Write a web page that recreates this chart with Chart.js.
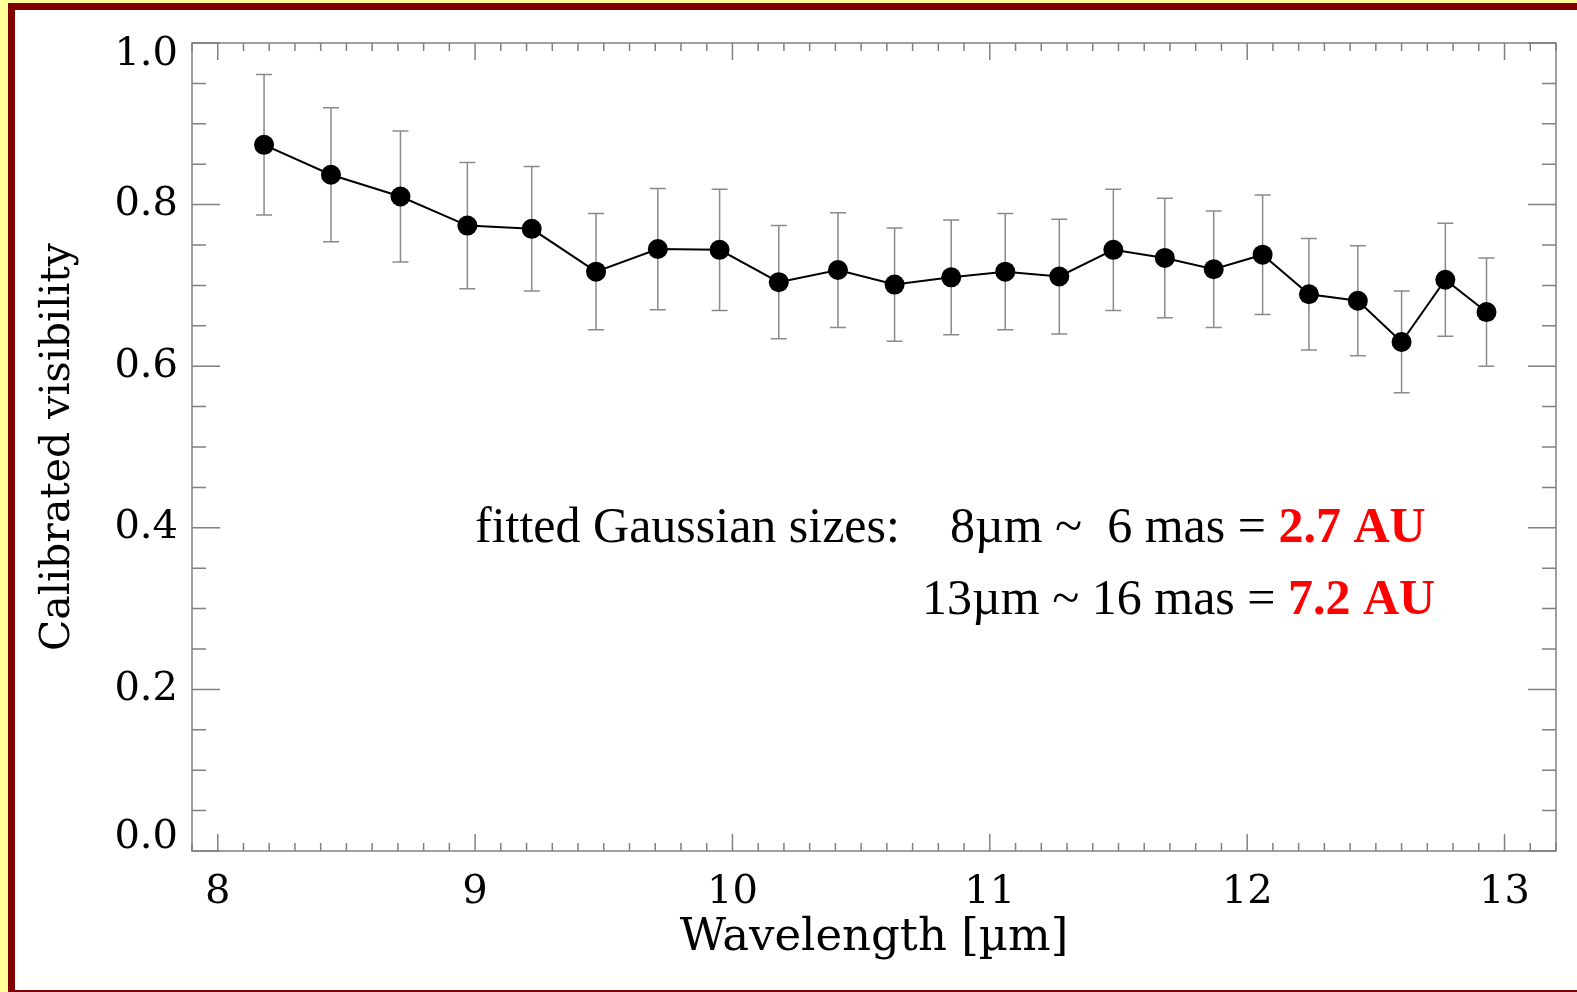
<!DOCTYPE html>
<html>
<head>
<meta charset="utf-8">
<script src="https://cdn.jsdelivr.net/npm/chart.js@4.4.1/dist/chart.umd.min.js"></script>
<style>
html, body { margin:0; padding:0; width:1577px; height:992px; overflow:hidden; background:#ffff99; }
#frame { position:absolute; left:8px; top:3px; width:1600px; height:980px; background:#fff;
         border-top:7px solid #800000; border-left:7px solid #800000; border-bottom:2px solid #800000; }
#wrap { position:absolute; left:0; top:0; width:1577px; height:992px; }
</style>
</head>
<body>
<div id="frame"></div>
<div id="wrap"><canvas id="c"></canvas></div>
<script>
// wavelength in micron, calibrated visibility and its error
var wavelength = [8.18, 8.44, 8.71, 8.97, 9.22, 9.47, 9.71, 9.95, 10.18, 10.41, 10.63, 10.85,
                  11.06, 11.27, 11.48, 11.68, 11.87, 12.06, 12.24, 12.43, 12.60, 12.77, 12.93];
var visibility = [0.874, 0.837, 0.810, 0.774, 0.770, 0.717, 0.745, 0.744, 0.704, 0.719, 0.701, 0.710,
                  0.717, 0.711, 0.744, 0.734, 0.720, 0.738, 0.689, 0.681, 0.630, 0.707, 0.667];
var visErr = [0.087, 0.083, 0.081, 0.078, 0.077, 0.072, 0.075, 0.075, 0.070, 0.071, 0.070, 0.071,
              0.072, 0.071, 0.075, 0.074, 0.072, 0.074, 0.069, 0.068, 0.063, 0.070, 0.067];

var xTicks = [8, 9, 10, 11, 12, 13];
var yTicks = [0.0, 0.2, 0.4, 0.6, 0.8, 1.0];
var yTickLabels = ['0.0', '0.2', '0.4', '0.6', '0.8', '1.0'];

var noteLine1 = ['fitted Gaussian sizes:    8\u00b5m ~  6 mas = ', '2.7 AU'];
var noteLine2 = ['13\u00b5m ~ 16 mas = ', '7.2 AU'];

var axisGrey = '#808080';
var tickFont = {family: 'DejaVu Serif', size: 40};

// error bars, drawn under the points
var errorBars = {
  id: 'errorBars',
  beforeDatasetsDraw: function(chart) {
    var ctx = chart.ctx, xs = chart.scales.x, ys = chart.scales.y;
    ctx.save();
    ctx.strokeStyle = '#8a8a8a';
    ctx.lineWidth = 1.5;
    for (var i = 0; i < wavelength.length; i++) {
      var px = xs.getPixelForValue(wavelength[i]);
      var top = ys.getPixelForValue(visibility[i] + visErr[i]);
      var bot = ys.getPixelForValue(visibility[i] - visErr[i]);
      ctx.beginPath();
      ctx.moveTo(px, top); ctx.lineTo(px, bot);
      ctx.moveTo(px - 8, top); ctx.lineTo(px + 8, top);
      ctx.moveTo(px - 8, bot); ctx.lineTo(px + 8, bot);
      ctx.stroke();
    }
    ctx.restore();
  }
};

// IDL style box with inward ticks on all four sides, y labels kept inside the box height
var axisBox = {
  id: 'axisBox',
  beforeDatasetsDraw: function(chart) {
    var ctx = chart.ctx, a = chart.chartArea, xs = chart.scales.x, ys = chart.scales.y;
    ctx.save();
    ctx.strokeStyle = axisGrey;
    ctx.lineWidth = 1.5;
    ctx.strokeRect(a.left, a.top, a.right - a.left, a.bottom - a.top);
    ctx.beginPath();
    for (var n = Math.ceil(xs.min * 10); n <= Math.floor(xs.max * 10); n++) {
      var px = xs.getPixelForValue(n / 10);
      var len = (n % 10 === 0) ? 17 : 8;
      ctx.moveTo(px, a.bottom); ctx.lineTo(px, a.bottom - len);
      ctx.moveTo(px, a.top); ctx.lineTo(px, a.top + len);
    }
    for (var m = 0; m <= 20; m++) {
      var py = ys.getPixelForValue(m / 20);
      var ln = (m % 4 === 0) ? 28 : 14;
      ctx.moveTo(a.left, py); ctx.lineTo(a.left + ln, py);
      ctx.moveTo(a.right, py); ctx.lineTo(a.right - ln, py);
    }
    ctx.stroke();

    ctx.fillStyle = '#000';
    ctx.font = tickFont.size + 'px "' + tickFont.family + '"';
    ctx.textAlign = 'right';
    ctx.textBaseline = 'middle';
    yTicks.forEach(function(v, i) {
      var y = Math.min(Math.max(ys.getPixelForValue(v), a.top + 12), a.bottom - 13);
      ctx.fillText(yTickLabels[i], a.left - 14, y);
    });
    ctx.restore();
  }
};

// the fitted sizes note
var sizeNote = {
  id: 'sizeNote',
  afterDraw: function(chart) {
    var ctx = chart.ctx;
    ctx.save();
    ctx.textBaseline = 'alphabetic';
    var rows = [[noteLine1, 475, 542], [noteLine2, 922, 614]];
    rows.forEach(function(r) {
      ctx.font = '50px "Liberation Serif"';
      ctx.fillStyle = '#000';
      ctx.fillText(r[0][0], r[1], r[2]);
      var w = ctx.measureText(r[0][0]).width;
      ctx.font = 'bold 50px "Liberation Serif"';
      ctx.fillStyle = '#ff0000';
      ctx.fillText(r[0][1], r[1] + w, r[2]);
    });
    ctx.restore();
  }
};

var points = wavelength.map(function(x, i) { return {x: x, y: visibility[i]}; });

new Chart(document.getElementById('c'), {
  type: 'scatter',
  data: {
    datasets: [{
      data: points,
      showLine: true,
      borderColor: '#000',
      borderWidth: 2,
      pointRadius: 10,
      pointBackgroundColor: '#000',
      pointBorderWidth: 0,
      tension: 0
    }]
  },
  options: {
    animation: false,
    responsive: true,
    maintainAspectRatio: false,
    layout: {padding: {top: 43, right: 21, left: 34, bottom: 27}},
    plugins: {legend: {display: false}, tooltip: {enabled: false}},
    scales: {
      x: {
        type: 'linear', min: 7.9, max: 13.2,
        afterBuildTicks: function(s) { s.ticks = xTicks.map(function(v) { return {value: v}; }); },
        afterFit: function(s) { s.height = 114; },
        grid: {display: false, drawTicks: false},
        border: {display: false},
        ticks: {font: tickFont, color: '#000', padding: 18, maxRotation: 0,
                callback: function(v) { return String(v); }},
        title: {display: true, text: 'Wavelength [\u00b5m]', color: '#000',
                font: {family: 'DejaVu Serif', size: 45}, padding: 0}
      },
      y: {
        type: 'linear', min: 0, max: 1,
        afterBuildTicks: function(s) { s.ticks = yTicks.map(function(v) { return {value: v}; }); },
        afterFit: function(s) { s.width = 158; },
        grid: {display: false, drawTicks: false},
        border: {display: false},
        ticks: {display: false},
        title: {display: true, text: 'Calibrated visibility', color: '#000',
                font: {family: 'DejaVu Serif', size: 41}, padding: 0}
      }
    }
  },
  plugins: [errorBars, axisBox, sizeNote]
});
</script>
</body>
</html>
